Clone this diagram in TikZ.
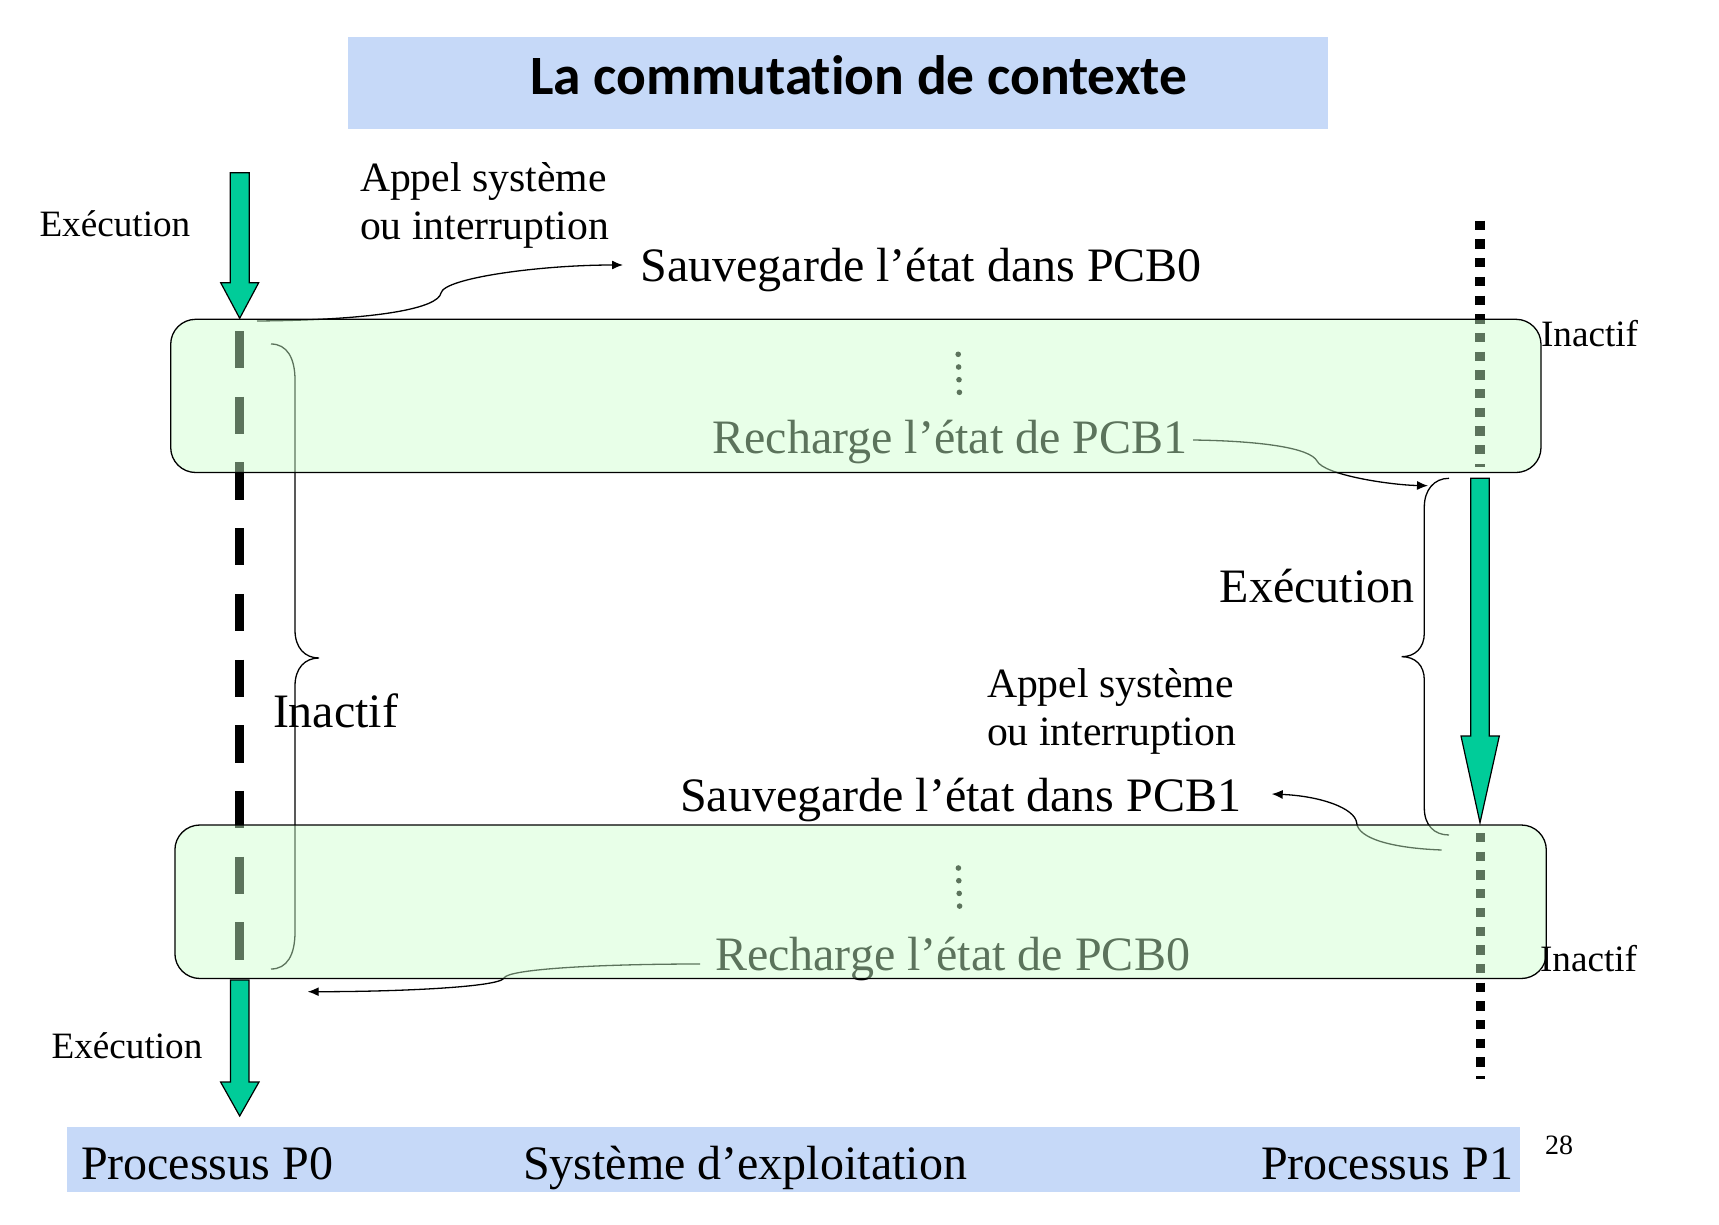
\documentclass[tikz,border=0pt]{standalone}
\usepackage{fontspec}
\setmainfont{Liberation Serif}
\newfontfamily\titlefont[Ligatures=NoCommon]{Carlito}
\usetikzlibrary{arrows.meta}
\definecolor{barblue}{RGB}{198,217,248}
\definecolor{boxgreen}{RGB}{204,255,204}
\definecolor{arrowgreen}{RGB}{0,204,153}
\begin{document}
\begin{tikzpicture}[x=1pt,y=-1pt,
  lbl/.style={anchor=base west,inner sep=0pt,outer sep=0pt},
  big/.style={lbl,font=\fontsize{48}{56}\selectfont},
  mid/.style={lbl,font=\fontsize{41.7}{48}\selectfont},
  small/.style={lbl,font=\fontsize{37.2}{44}\selectfont},
  osbox/.style={draw=black,line width=1.3pt,rounded corners=25pt,fill=boxgreen,fill opacity=0.45,draw opacity=1},
  bigarrow/.style={fill=arrowgreen,draw=black,line width=1.2pt,line join=miter},
  conn/.style={line width=1.3pt,-{Latex[length=11pt,width=9pt]}},
  bracestyle/.style={line width=1.3pt},
  dashline/.style={line width=9.3pt,dash pattern=on 37.3pt off 28.4pt},
  dotline/.style={line width=9.3pt,dash pattern=on 9.35pt off 9.35pt}]
\useasboundingbox (0,0) rectangle (1719,1225);

% title and bottom bar
\fill[barblue] (347.5,37.3) rectangle (1328,129.4);
\node[lbl,font=\titlefont\bfseries\fontsize{55.5}{60}\selectfont] (title) at (530,94.3) {La commutation de contexte};
\fill[barblue] (66.9,1126.5) rectangle (1520.3,1191.5);
\node[big] (p0) at (81,1179) {Processus P0};
\node[big] (se) at (523,1179) {Système d’exploitation};
\node[big] (p1) at (1261,1179) {Processus P1};
\node[lbl,font=\fontsize{28}{32}\selectfont] (num) at (1545,1154) {28};

% process timelines (under the boxes)
\coordinate (d0a) at (239.5,331);
\coordinate (d0b) at (239.5,961);
\draw[dashline] (d0a) -- (d0b);
\coordinate (d1a) at (1480,220.7);
\coordinate (d1b) at (1480,467);
\coordinate (d1c) at (1480.5,833);
\coordinate (d1d) at (1480.5,1079);
\draw[dotline] (d1a) -- (d1b);
\draw[dotline] (d1c) -- (d1d);

% braces
\draw[bracestyle] (271,344) .. controls (287,344) and (295,358) .. (295,380)
  -- (295,630) .. controls (295,648) and (305,658) .. (319,658)
  .. controls (305,658) and (295,668) .. (295,686)
  -- (295,932) .. controls (295,955) and (287,969) .. (271,969);
\draw[bracestyle] (1449,478.3) .. controls (1434,478.3) and (1424.3,490) .. (1424.3,507)
  -- (1424.3,633) .. controls (1424.3,648) and (1415,656.7) .. (1401.7,656.7)
  .. controls (1415,656.7) and (1424.3,665) .. (1424.3,680)
  -- (1424.3,808) .. controls (1424.3,825) and (1434,835) .. (1449,835);

% texts inside boxes
\node[big] (rec1) at (712.6,453.3) {Recharge l’état de PCB1};
\node[big] (rec0) at (715,970.8) {Recharge l’état de PCB0};
\foreach \y [count=\i] in {354.3,367,379.7,392.3}{
  \fill (957.8+0.4*\i,\y) circle (2.8pt);
}
\foreach \y [count=\i] in {868,880.7,893.4,906.1}{
  \fill (958+0.4*\i,\y) circle (2.8pt);
}

% connectors
\coordinate (c1s) at (257,321);
\coordinate (c1e) at (623,265);
\draw[conn] (c1s) .. controls (380,320) and (438,308) .. (441,293)
  .. controls (444,278) and (540,265) .. (c1e);
\coordinate (c2s) at (1193,440);
\coordinate (c2e) at (1428,485.7);
\draw[conn] (c2s) .. controls (1262,441) and (1310,448) .. (1317,461)
  .. controls (1324,475) and (1390,485) .. (c2e);
\coordinate (c3s) at (1441.7,850);
\coordinate (c3e) at (1271.7,794);
\draw[conn] (c3s) .. controls (1390,848) and (1358,838) .. (1356.7,823)
  .. controls (1355,808) and (1320,796) .. (c3e);
\coordinate (c4s) at (700,964);
\coordinate (c4e) at (307.7,991.7);
\draw[conn] (c4s) .. controls (600,964) and (508,969) .. (504,978)
  .. controls (500,987) and (400,991.7) .. (c4e);

% OS boxes
\draw[osbox] (170.7,319.3) rectangle (1541,472.5);
\draw[osbox] (174.9,825) rectangle (1546.3,978.5);

% labels
\node[small] (exe0) at (39.5,236.5) {Exécution};
\node[mid] (app1) at (360,191.7) {Appel système};
\node[mid] (app2) at (360,240) {ou interruption};
\node[big] (sav0) at (640.6,281) {Sauvegarde l’état dans PCB0};
\node[small] (inact1) at (1541,346.7) {Inactif};
\node[big] (exe1) at (1219.8,602) {Exécution};
\node[big] (inact0) at (273,727) {Inactif};
\node[mid] (app3) at (987,697.6) {Appel système};
\node[mid] (app4) at (987,745.8) {ou interruption};
\node[big] (sav1) at (680,811.7) {Sauvegarde l’état dans PCB1};
\node[small] (inact2) at (1540,971.7) {Inactif};
\node[small] (exe2) at (51.6,1058.6) {Exécution};

% execution arrows
\draw[bigarrow] (230.2,172.7) -- (249.2,172.7) -- (249.2,282.7) -- (258.7,282.7)
  -- (239.7,318.3) -- (220.7,282.7) -- (230.2,282.7) -- cycle;
\draw[bigarrow] (1470.7,478.3) -- (1489.3,478.3) -- (1489.3,736) -- (1499.3,736)
  -- (1480,822.7) -- (1461,736) -- (1470.7,736) -- cycle;
\draw[bigarrow] (230.4,980) -- (248.9,980) -- (248.9,1082) -- (259,1082)
  -- (239.7,1116) -- (220.6,1082) -- (230.4,1082) -- cycle;
\end{tikzpicture}
\end{document}
